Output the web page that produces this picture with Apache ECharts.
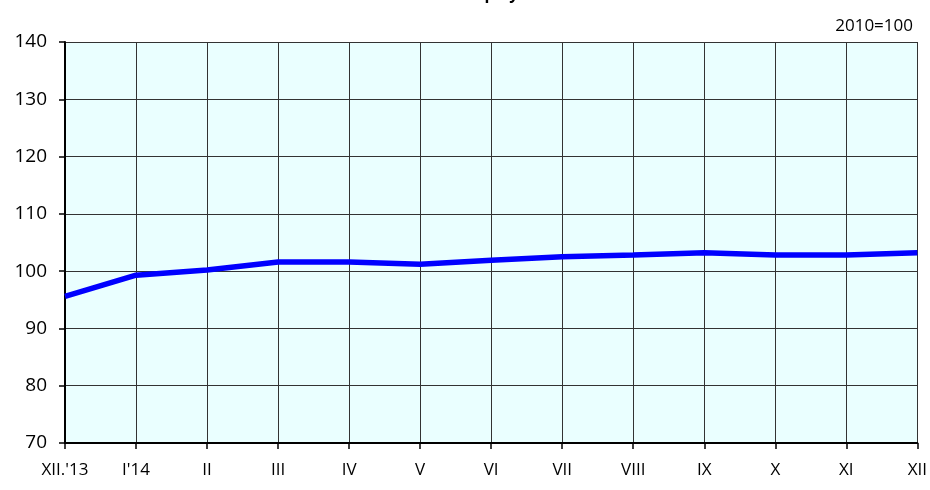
<!DOCTYPE html>
<html><head><meta charset="utf-8">
<script src="https://cdn.jsdelivr.net/npm/echarts@6/dist/echarts.min.js"></script>
<style>html,body{margin:0;padding:0;background:#fff}#c{width:930px;height:490px}</style>
</head><body><div id="c"></div>
<script>
const categories = ["XII.'13","I'14","II","III","IV","V","VI","VII","VIII","IX","X","XI","XII"];
const values = [95.6, 99.3, 100.2, 101.6, 101.6, 101.2, 101.9, 102.5, 102.8, 103.2, 102.8, 102.8, 103.2];
const titleText = "Persons employed";
const unitText = "2010=100";
const chart = echarts.init(document.getElementById('c'));
const font = "'Open Sans', 'Noto Sans', sans-serif";
chart.setOption({
  animation: false,
  backgroundColor: '#fff',
  title: [
    {text: titleText, left: 'center', top: -19, textStyle: {fontSize: 16, fontWeight: 'bold', color: '#000', fontFamily: font}},
    {text: unitText, right: 12, top: 13, textStyle: {fontSize: 17, fontWeight: 'normal', color: '#000', fontFamily: font}}
  ],
  grid: {left: 65, right: 11, top: 42, bottom: 47, show: true, backgroundColor: '#eaffff', borderWidth: 0},
  xAxis: {
    type: 'category', data: categories, boundaryGap: false,
    axisLine: {show: true, lineStyle: {color: '#000', width: 2}},
    axisTick: {show: true, length: 6, lineStyle: {color: '#000', width: 1.5}},
    axisLabel: {color: '#000', fontSize: 17, margin: 19, fontFamily: font, interval: 0},
    splitLine: {show: true, lineStyle: {color: '#333', width: 1}}
  },
  yAxis: {
    type: 'value', min: 70, max: 140, interval: 10,
    axisLine: {show: true, lineStyle: {color: '#000', width: 2}},
    axisTick: {show: true, length: 6, lineStyle: {color: '#000', width: 1.5}},
    axisLabel: {color: '#000', fontSize: 19, margin: 18, fontFamily: font},
    splitLine: {show: true, lineStyle: {color: '#333', width: 1}}
  },
  series: [{type: 'line', data: values, symbol: 'none', lineStyle: {color: '#0000ff', width: 5.5}, z: 5}]
});
</script></body></html>
